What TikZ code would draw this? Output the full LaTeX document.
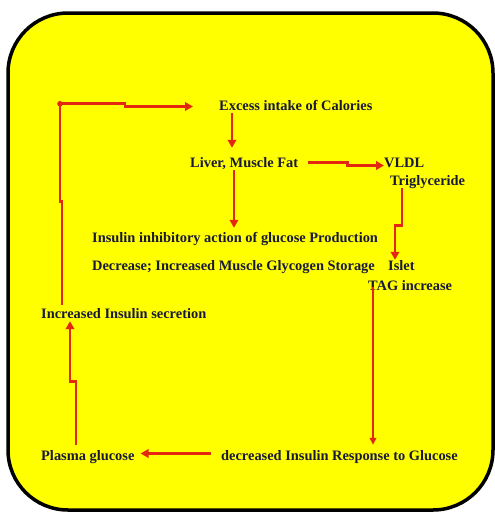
\documentclass[tikz,border=0pt]{standalone}
\usepackage{fontspec}
\setmainfont{Liberation Serif}
\usetikzlibrary{arrows.meta,calc}
\definecolor{txtc}{RGB}{25,25,60}
\definecolor{arrc}{RGB}{228,40,15}
\definecolor{bgc}{RGB}{255,255,0}
\begin{document}
\begin{tikzpicture}[x=1pt,y=-1pt,
  lbl/.style={anchor=base west,inner sep=0pt,text height=10pt,text depth=3pt,
    font=\bfseries\fontsize{14.4}{17}\selectfont,text=txtc},
  conn/.style={draw=arrc,line width=2.8pt,-{Triangle[length=8pt,width=8.5pt]}},
  thinconn/.style={draw=arrc,line width=1.8pt,-{Triangle[length=7pt,width=6.5pt]}}]
\useasboundingbox (0,0) rectangle (495,515);
\draw[line width=3.5pt,fill=bgc,rounded corners=60pt] (8,13) rectangle (493,510);

\node[lbl] (exc)  at (219,110) {Excess intake of Calories};
\node[lbl] (liv)  at (190,167) {Liver, Muscle Fat};
\node[lbl] (vldl) at (384,167) {VLDL};
\node[lbl] (tri)  at (390,185) {Triglyceride};
\node[lbl] (inh)  at (92,242)  {Insulin inhibitory action of glucose Production};
\node[lbl] (dec)  at (92,270)  {Decrease; Increased Muscle Glycogen Storage};
\node[lbl] (isl)  at (388,270) {Islet};
\node[lbl] (tag)  at (368,290) {TAG increase};
\node[lbl] (sec)  at (41,318)  {Increased Insulin secretion};
\node[lbl] (pla)  at (41,460)  {Plasma glucose};
\node[lbl] (dir)  at (221,460) {decreased Insulin Response to Glucose};

% Excess -> Liver
\draw[conn] ([xshift=13pt]exc.south west) -- ([xshift=42pt,yshift=9pt]liv.north west);
% Liver -> Insulin inhibitory
\draw[conn] ([xshift=44pt]liv.south west) -- ([xshift=142pt,yshift=4pt]inh.north west);
% Liver -> VLDL
\draw[conn] ([xshift=10pt,yshift=1pt]liv.east) -- ++(39,0) -- ++(0,3) coordinate (lv) -- (lv -| vldl.west);
% Triglyceride -> Islet
\draw[conn] ([xshift=12pt]tri.south west) -- ++(0,37) -- ++(-7,0) coordinate (tg) -- (tg |- isl.north);
% TAG -> decreased Insulin Response
\draw[thinconn] ([xshift=5pt,yshift=6pt]tag.south west) coordinate (ta) -- ($(ta |- dir.north)+(0,-5)$);
% decreased -> Plasma glucose
\draw[conn] ([xshift=-10pt,yshift=3pt]dir.west) -- ([xshift=6pt,yshift=3pt]pla.east);
% Plasma glucose -> Increased Insulin secretion
\draw[conn] ([xshift=35pt,yshift=5pt]pla.north west) -- ++(0,-63) -- ++(-6,0) coordinate (pg) -- (pg |- sec.south);
% Increased Insulin secretion -> Excess intake
\draw[conn] ([xshift=21pt,yshift=3pt]sec.north west) -- ++(0,-103) -- ++(-2,0) -- ++(0,-98) coordinate (cn) -- ++(65,0) |- ([xshift=-26pt]exc.west);
\fill[arrc] (cn) circle (2.8pt);
\end{tikzpicture}
\end{document}
